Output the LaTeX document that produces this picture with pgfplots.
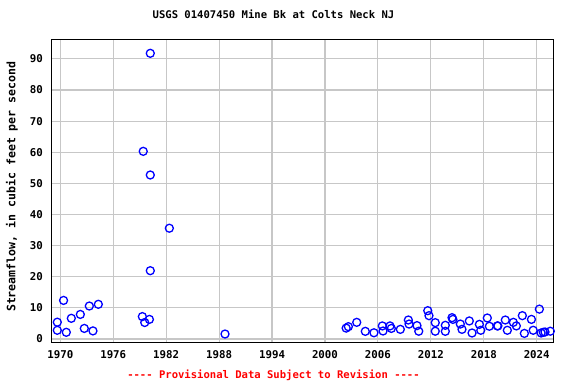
\documentclass[border=0pt]{standalone}
\usepackage{fontspec}
\setmainfont{DejaVu Sans Mono}
\setmonofont{DejaVu Sans Mono}
\usepackage{pgfplots}
\pgfplotsset{compat=1.18}
\pgfplotstableread{
x y
1969.66 5.4
1969.66 2.8
1970.37 12.4
1970.68 2.15
1971.25 6.65
1972.27 7.9
1972.72 3.4
1973.29 10.6
1973.70 2.6
1974.31 11.15
1979.30 7.2
1979.57 5.3
1980.10 6.3
1979.40 60.3
1980.20 52.7
1980.20 91.8
1980.20 21.95
1982.36 35.6
1988.67 1.6
2002.40 3.5
2002.65 3.96
2003.60 5.35
2004.57 2.46
2005.55 2.0
2006.50 4.2
2006.58 2.57
2007.37 4.2
2007.52 3.4
2008.54 3.1
2009.45 6.1
2009.53 4.8
2010.43 4.3
2010.63 2.5
2011.65 9.1
2011.79 7.5
2012.50 5.25
2012.50 2.5
2013.64 4.4
2013.64 2.47
2014.40 6.85
2014.50 6.3
2015.34 4.8
2015.53 3.1
2016.36 5.8
2016.67 1.93
2017.50 4.7
2017.66 2.8
2018.40 6.75
2018.63 4.1
2019.53 4.2
2019.60 4.2
2020.44 6.1
2020.67 2.8
2021.35 5.35
2021.69 4.2
2022.37 7.5
2022.60 1.8
2023.40 6.3
2023.60 2.8
2024.30 9.6
2024.50 1.93
2024.75 2.15
2024.94 2.25
2025.54 2.5
}\flow
\begin{document}
\begin{tikzpicture}
\path[use as bounding box] (0,0) rectangle (576bp,384bp);
\begin{axis}[
  at={(51.3bp,41.7bp)}, anchor=south west,
  scale only axis, width=502bp, height=303bp,
  xmin=1968.98, xmax=2025.88, ymin=-1.06, ymax=96.3,
  xtick={1970,1976,...,2024}, ytick={0,10,...,90},
  grid=major, major grid style={draw=black!22, line width=1.1bp},
  major tick length=0pt,
  axis line style={line width=1.4bp},
  tick label style={font=\fontsize{10.8}{12}\selectfont\bfseries},
  xticklabel style={yshift=-5bp},
  yticklabel style={xshift=-5bp},
  /pgf/number format/assume math mode=true,
  /pgf/number format/1000 sep={},
  ylabel={Streamflow, in cubic feet per second},
  ylabel style={font=\fontsize{11.6}{12}\selectfont\bfseries, at={(axis description cs:-0.0783,0.5135)}, anchor=center},
  xlabel={-{}-{}-{}- Provisional Data Subject to Revision -{}-{}-{}-},
  xlabel style={font=\fontsize{10.6}{12}\selectfont\bfseries, text=red, at={(axis description cs:0.4426,-0.108)}, anchor=center},
  title={USGS 01407450 Mine Bk at Colts Neck NJ},
  title style={font=\fontsize{10.6}{12}\selectfont\bfseries, at={(axis description cs:0.4426,1.0637)}, anchor=center},
]
\addplot[only marks, mark=o, mark size=4bp, draw={rgb,255:red,0;green,0;blue,255}, line width=1.3bp] table[x=x,y=y] {\flow};
\end{axis}
\end{tikzpicture}
\end{document}
